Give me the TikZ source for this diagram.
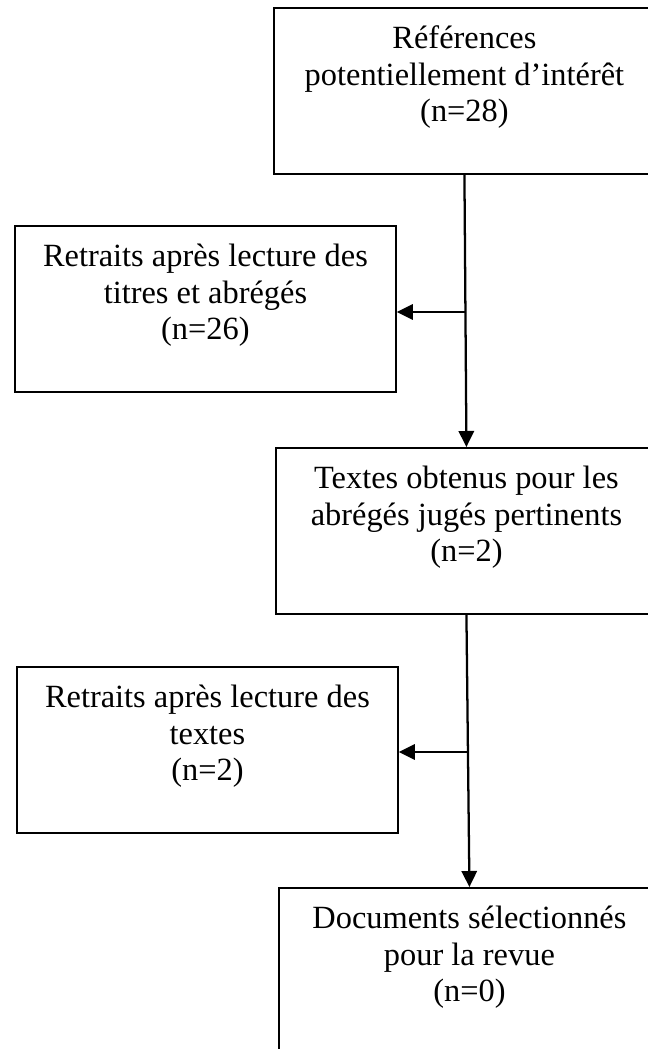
\documentclass[tikz,border=0pt]{standalone}
\usepackage{fontspec}
\setmainfont{Liberation Serif}
\usetikzlibrary{arrows.meta}

% Box content: a fixed-size parbox with the lines set near the top
\newcommand\flowtext[1]{%
  \parbox[c][124.5pt][t]{285.75pt}{%
    \fontsize{24.3}{27.4}\selectfont\centering
    \vspace*{11.5pt}\strut #1\strut}}

\tikzset{
  flowbox/.style={draw=black, line width=1.4pt, inner sep=0pt,
    anchor=north west, fill=white},
  flowarrow/.style={draw=black, line width=1.7pt,
    -{Triangle[length=12pt, width=11.5pt]}},
  flowline/.style={draw=black, line width=1.7pt}
}

\begin{document}
\begin{tikzpicture}[x=0.75pt, y=-0.75pt]
  \useasboundingbox (0,0) rectangle (648,1049);
  \clip (0,0) rectangle (648,1049);

  % Main column
  \node[flowbox] (b1) at (273,7)
    {\flowtext{Références\\potentiellement d’intérêt\\(n=28)}};
  \node[flowbox] (b3) at (275,447)
    {\flowtext{Textes obtenus pour les\\abrégés jugés pertinents\\(n=2)}};
  \node[flowbox] (b5) at (278,887)
    {\flowtext{Documents sélectionnés\\pour la revue\\(n=0)}};

  % Exclusions on the left
  \node[flowbox] (b2) at (14,225)
    {\flowtext{Retraits après lecture des\\titres et abrégés\\(n=26)}};
  \node[flowbox] (b4) at (16,666)
    {\flowtext{Retraits après lecture des\\textes\\(n=2)}};

  % Vertical flow
  \draw[flowarrow] (b1.south) -- (b3.north);
  \draw[flowarrow] (b3.south) -- (b5.north);

  % Branches to the exclusion boxes
  \coordinate (j1) at (464.5,312);
  \coordinate (j2) at (466.8,752);
  \draw[flowarrow] (j1) -- (j1 -| b2.east);
  \draw[flowarrow] (j2) -- (j2 -| b4.east);
\end{tikzpicture}
\end{document}
